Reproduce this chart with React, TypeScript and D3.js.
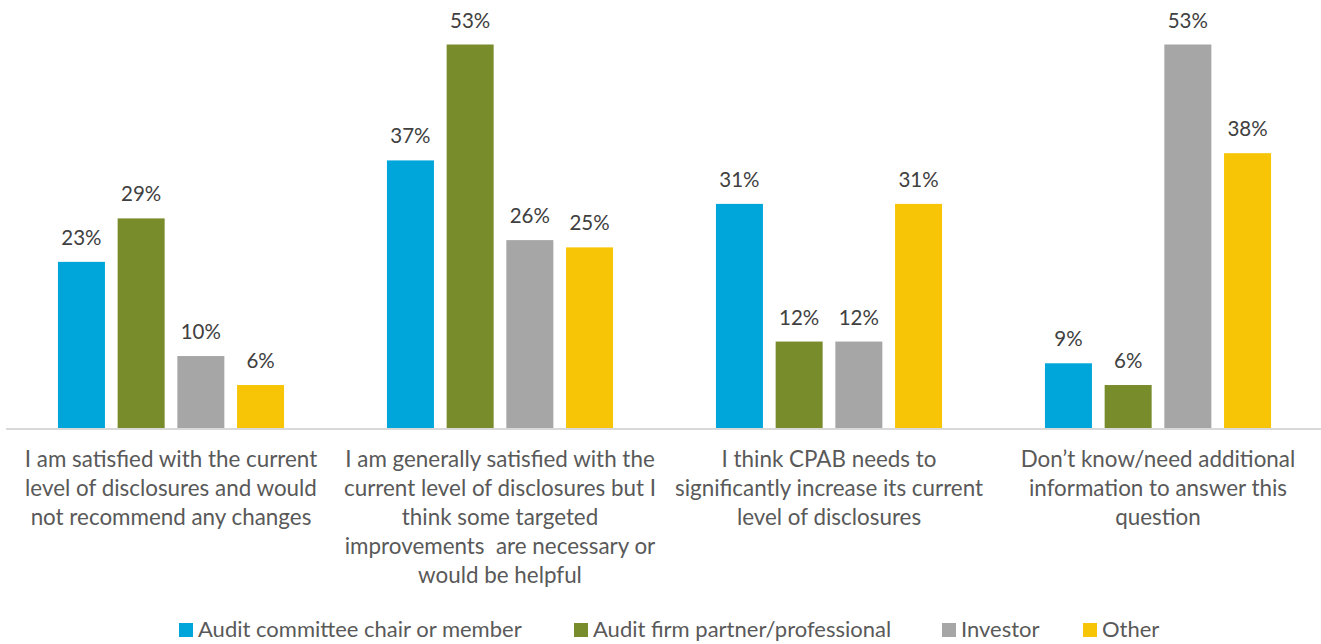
import React from "react";
import * as d3 from "d3";

const categories = [
  "I am satisfied with the current level of disclosures and would not recommend any changes",
  "I am generally satisfied with the current level of disclosures but I think some targeted improvements  are necessary or would be helpful",
  "I think CPAB needs to significantly increase its current level of disclosures",
  "Don’t know/need additional information to answer this question",
];
const categoryLines = [
  ["I am satisfied with the current", "level of disclosures and would", "not recommend any changes"],
  ["I am generally satisfied with the", "current level of disclosures but I", "think some targeted", "improvements  are necessary or", "would be helpful"],
  ["I think CPAB needs to", "significantly increase its current", "level of disclosures"],
  ["Don’t know/need additional", "information to answer this", "question"],
];
const series = [
  "Audit committee chair or member",
  "Audit firm partner/professional",
  "Investor",
  "Other",
];
const auditCommittee = [23, 37, 31, 9];
const auditFirm = [29, 53, 12, 6];
const investor = [10, 26, 12, 53];
const other = [6, 25, 31, 38];
const seriesValues = [auditCommittee, auditFirm, investor, other];
const colors = ["#00A6DA", "#788C2B", "#A6A6A6", "#F7C505"];
const legendX = [179, 574, 942, 1083];

const W = 1321;
const H = 644;
const FONT = "Lato, 'Open Sans', sans-serif";

export default function App() {
  const x0 = d3.scaleBand<string>().domain(categories).range([6.5, 1322.5]);
  const step = 59.7;
  const x1 = d3
    .scaleBand<string>()
    .domain(series)
    .range([-2 * step, 2 * step])
    .paddingInner(0.2127)
    .paddingOuter(0.10635);
  const y = d3.scaleLinear().domain([0, 53]).range([428.5, 44.5]);

  return (
    <svg
      width={W}
      height={H}
      style={{ position: "absolute", left: 0, top: 0, background: "#fff" }}
      fontFamily={FONT}
    >
      {categories.map((c, ci) => {
        const cx = (x0(c) as number) + x0.bandwidth() / 2;
        return (
          <g key={c}>
            {series.map((s, si) => {
              const v = seriesValues[si][ci];
              const bx = cx + (x1(s) as number);
              return (
                <g key={s}>
                  <rect
                    x={bx}
                    y={y(v)}
                    width={x1.bandwidth()}
                    height={y(0) - y(v)}
                    fill={colors[si]}
                  />
                  <text
                    x={bx + x1.bandwidth() / 2}
                    y={y(v) - 17}
                    textAnchor="middle"
                    fontSize={20.5}
                    fill="#404040"
                  >
                    {v}%
                  </text>
                </g>
              );
            })}
            {categoryLines[ci].map((line, li) => (
              <text
                key={li}
                x={cx}
                y={467 + li * 29}
                textAnchor="middle"
                fontSize={22.4}
                fill="#595959"
                style={{ whiteSpace: "pre" }}
              >
                {line}
              </text>
            ))}
          </g>
        );
      })}
      <line x1={6} x2={1321} y1={429} y2={429} stroke="#D9D9D9" strokeWidth={2} />
      {series.map((s, si) => (
        <g key={s} transform={`translate(${legendX[si]},0)`}>
          <rect x={0} y={623} width={14} height={14} fill={colors[si]} />
          <text x={19} y={637} fontSize={22} fill="#595959">
            {s}
          </text>
        </g>
      ))}
    </svg>
  );
}
